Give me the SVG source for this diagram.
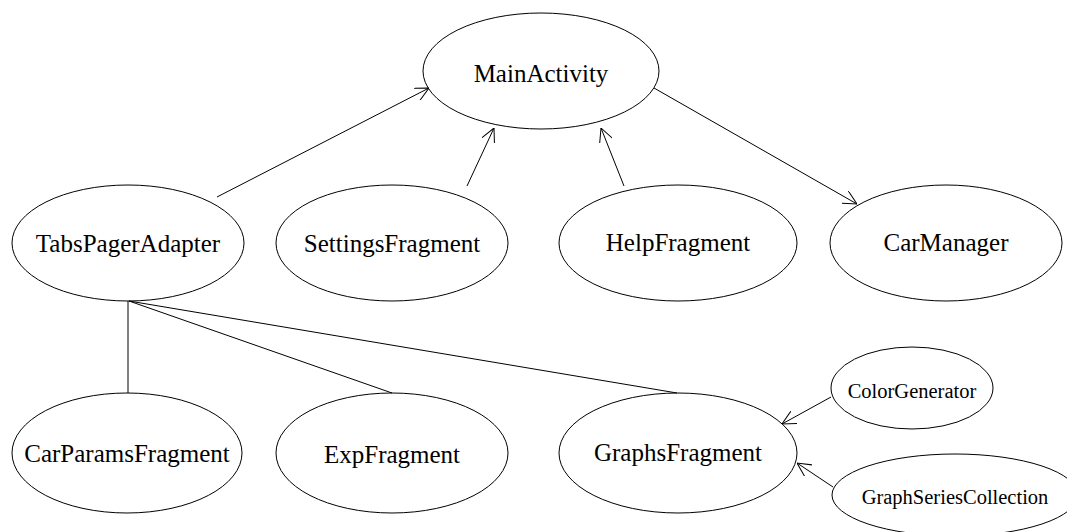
<svg xmlns="http://www.w3.org/2000/svg" width="1067" height="532" viewBox="0 0 1067 532">
<style>
.node ellipse{fill:none;stroke:#000;stroke-width:1}
.node text{font-family:"Liberation Serif","Times New Roman",serif;font-size:25px;fill:#000;text-anchor:middle}
.node text.s{font-size:20.5px}
.edges line{stroke:#000;stroke-width:1;fill:none}
</style>
<defs>
<marker id="arr" viewBox="0 0 14 14" refX="14" refY="7" markerWidth="14" markerHeight="14" markerUnits="userSpaceOnUse" orient="auto">
<path d="M0,0 L14,7 L0,14" fill="none" stroke="#000" stroke-width="1"/>
</marker>
</defs>
<rect width="1067" height="532" fill="#fff"/>
<g class="edges">
<line x1="217" y1="197" x2="429" y2="88" marker-end="url(#arr)"/>
<line x1="467" y1="186" x2="494" y2="128" marker-end="url(#arr)"/>
<line x1="624" y1="186" x2="601" y2="128" marker-end="url(#arr)"/>
<line x1="654" y1="88" x2="857" y2="204" marker-end="url(#arr)"/>
<line x1="128" y1="301" x2="128" y2="393"/>
<line x1="129" y1="301" x2="392" y2="393"/>
<line x1="129" y1="301" x2="677" y2="393"/>
<line x1="831" y1="397" x2="782" y2="424" marker-end="url(#arr)"/>
<line x1="833" y1="487" x2="797" y2="463" marker-end="url(#arr)"/>
</g>
<g id="MainActivity" class="node"><ellipse cx="541" cy="71" rx="118" ry="58"/><text x="541" y="82">MainActivity</text></g>
<g id="TabsPagerAdapter" class="node"><ellipse cx="128" cy="243" rx="116" ry="58"/><text x="128" y="252">TabsPagerAdapter</text></g>
<g id="SettingsFragment" class="node"><ellipse cx="392" cy="243" rx="116" ry="58"/><text x="392" y="252">SettingsFragment</text></g>
<g id="HelpFragment" class="node"><ellipse cx="678" cy="243" rx="119" ry="58"/><text x="678" y="251">HelpFragment</text></g>
<g id="CarManager" class="node"><ellipse cx="946" cy="243" rx="116" ry="58"/><text x="946" y="251">CarManager</text></g>
<g id="CarParamsFragment" class="node"><ellipse cx="127" cy="453" rx="115" ry="60"/><text x="127" y="462">CarParamsFragment</text></g>
<g id="ExpFragment" class="node"><ellipse cx="392" cy="453" rx="116" ry="60"/><text x="392" y="463">ExpFragment</text></g>
<g id="GraphsFragment" class="node"><ellipse cx="678" cy="453" rx="119" ry="60"/><text x="678" y="461">GraphsFragment</text></g>
<g id="ColorGenerator" class="node"><ellipse cx="912" cy="388" rx="81" ry="41"/><text class="s" x="912" y="398">ColorGenerator</text></g>
<g id="GraphSeriesCollection" class="node"><ellipse cx="955" cy="495" rx="123" ry="41"/><text class="s" x="955" y="504">GraphSeriesCollection</text></g>
</svg>
